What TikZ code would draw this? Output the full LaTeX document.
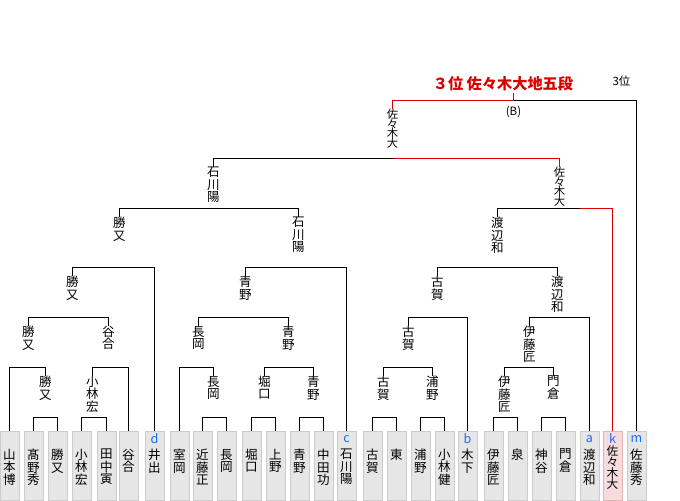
\documentclass[tikz,border=0pt]{standalone}
\usepackage{fontspec}
\newfontfamily\jp{Noto Sans CJK JP}
\newcommand\tightls{\lineskiplimit=-20pt\relax}
\definecolor{winred}{HTML}{D90000}
\definecolor{boxfill}{HTML}{E6E6E6}
\definecolor{boxline}{HTML}{CCCCCC}
\definecolor{pinkfill}{HTML}{F6DCDC}
\definecolor{pinkline}{HTML}{E2B5B5}
\definecolor{letterblue}{HTML}{1A6EFF}
\begin{document}
\begin{tikzpicture}[x=0.75pt,y=-0.75pt,line width=0.75pt,
  lab/.style={anchor=north,inner sep=0pt,align=center,font={\jp\fontsize{9.4}{9.4}\selectfont\tightls}},
  lab4/.style={lab,font={\jp\fontsize{8.5}{7.3}\selectfont\tightls}},
  leafname4/.style={lab,font={\jp\fontsize{8.8}{8.25}\selectfont\tightls}},
  leaf/.style={draw=boxline,fill=boxfill,anchor=north,minimum width=14.25pt,minimum height=51.75pt,inner sep=0pt},
  winleaf/.style={leaf,draw=pinkline,fill=pinkfill},
  tag/.style={inner sep=0pt,text=letterblue,font={\jp\fontsize{9.4}{9.4}\selectfont}},
  win/.style={draw=winred}]
\useasboundingbox (-0.5,-0.5) rectangle (679.5,499.5);

% ---- leaves ----
\node[leaf] (b0) at (9,430) {};   \node[lab] (n0) at (9,448) {山\\本\\博};
\node[leaf] (b1) at (33,430) {};  \node[lab] (n1) at (33,448) {髙\\野\\秀};
\node[leaf] (b2) at (57,430) {};  \node[lab] (n2) at (57,448) {勝\\又};
\node[leaf] (b3) at (81,430) {};  \node[lab] (n3) at (81,448) {小\\林\\宏};
\node[leaf] (b4) at (106,430) {}; \node[lab] (n4) at (106,448) {田\\中\\寅};
\node[leaf] (b5) at (128,430) {}; \node[lab] (n5) at (128,448) {谷\\合};
\node[leaf] (b6) at (154,430) {}; \node[lab] (n6) at (154,448) {井\\出};
\node[tag] (t6) at (154,438.5) {d};
\node[leaf] (b7) at (179,430) {}; \node[lab] (n7) at (179,448) {室\\岡};
\node[leaf] (b8) at (202,430) {}; \node[lab] (n8) at (202,448) {近\\藤\\正};
\node[leaf] (b9) at (226,430) {}; \node[lab] (n9) at (226,448) {長\\岡};
\node[leaf] (b10) at (251,430) {}; \node[lab] (n10) at (251,448) {堀\\口};
\node[leaf] (b11) at (275,430) {}; \node[lab] (n11) at (275,448) {上\\野};
\node[leaf] (b12) at (299,430) {}; \node[lab] (n12) at (299,448) {青\\野};
\node[leaf] (b13) at (323,430) {}; \node[lab] (n13) at (323,448) {中\\田\\功};
\node[leaf] (b14) at (346,430) {}; \node[lab] (n14) at (346,448) {石\\川\\陽};
\node[tag] (t14) at (346,438.5) {c};
\node[leaf] (b15) at (372,430) {}; \node[lab] (n15) at (372,448) {古\\賀};
\node[leaf] (b16) at (396,430) {}; \node[lab] (n16) at (396,448) {東};
\node[leaf] (b17) at (420,430) {}; \node[lab] (n17) at (420,448) {浦\\野};
\node[leaf] (b18) at (444,430) {}; \node[lab] (n18) at (444,448) {小\\林\\健};
\node[leaf] (b19) at (467,430) {}; \node[lab] (n19) at (467,448) {木\\下};
\node[tag] (t19) at (467,438.5) {b};
\node[leaf] (b20) at (493,430) {}; \node[lab] (n20) at (493,448) {伊\\藤\\匠};
\node[leaf] (b21) at (517,430) {}; \node[lab] (n21) at (517,448) {泉};
\node[leaf] (b22) at (541,430) {}; \node[lab] (n22) at (541,448) {神\\谷};
\node[leaf] (b23) at (565,430) {}; \node[lab] (n23) at (565,448) {門\\倉};
\node[leaf] (b24) at (589,430) {}; \node[lab] (n24) at (589,448) {渡\\辺\\和};
\node[tag] (t24) at (589,438.5) {a};
\node[winleaf] (b25) at (612,430) {}; \node[leafname4] (n25) at (612,445) {佐\\々\\木\\大};
\node[tag] (t25) at (612,438) {k};
\node[leaf] (b26) at (636,430) {}; \node[lab] (n26) at (636,448) {佐\\藤\\秀};
\node[tag] (t26) at (636,438.5) {m};

% ---- winner labels ----
\node[lab4] (p0) at (392,108) {佐\\々\\木\\大};
\node[lab] (s1) at (213,166) {石\\川\\陽};
\node[lab4] (s2) at (559,166) {佐\\々\\木\\大};
\node[lab] (q1) at (119,216) {勝\\又};
\node[lab] (q2) at (298,216) {石\\川\\陽};
\node[lab] (q3) at (497,216) {渡\\辺\\和};
\node[lab] (r1) at (72,275) {勝\\又};
\node[lab] (r2) at (245,275) {青\\野};
\node[lab] (r3) at (437,275) {古\\賀};
\node[lab] (r4) at (557,275) {渡\\辺\\和};
\node[lab] (u1) at (28,325) {勝\\又};
\node[lab] (u2) at (108,325) {谷\\合};
\node[lab] (u3) at (198,325) {長\\岡};
\node[lab] (u4) at (288,325) {青\\野};
\node[lab] (u5) at (408,325) {古\\賀};
\node[lab] (u6) at (529,325) {伊\\藤\\匠};
\node[lab] (v1) at (45,375) {勝\\又};
\node[lab] (v2) at (92,375) {小\\林\\宏};
\node[lab] (v3) at (213,375) {長\\岡};
\node[lab] (v4) at (264,375) {堀\\口};
\node[lab] (v5) at (313,375) {青\\野};
\node[lab] (v6) at (383,375) {古\\賀};
\node[lab] (v7) at (432,375) {浦\\野};
\node[lab] (v8) at (504,375) {伊\\藤\\匠};
\node[lab] (v9) at (553,375) {門\\倉};

% ---- title texts ----
\node[inner sep=1.5pt,text=winred,font={\jp\bfseries\fontsize{11.4}{11.4}\selectfont}] (title) at (502.5,83) {３位 佐々木大地五段};
\node[inner sep=0pt,font={\jp\fontsize{8.6}{8.6}\selectfont}] (third) at (621,81) {3位};
\node[inner sep=0pt,font={\jp\fontsize{8.6}{8.6}\selectfont}] (bmark) at (513,111) {(B)};

% ---- match line coordinates ----
\coordinate (m0) at (513,100);
\coordinate (m1) at (393,158);
\coordinate (m2a) at (213,208);
\coordinate (m2b) at (579,208);
\coordinate (m3a) at (119,267);
\coordinate (m3b) at (298,267);
\coordinate (m3c) at (497,267);
\coordinate (m4a) at (72,317);
\coordinate (m4b) at (245,317);
\coordinate (m4c) at (437,317);
\coordinate (m4d) at (557,317);
\coordinate (m5a) at (28,367);
\coordinate (m5b) at (108,367);
\coordinate (m5c) at (198,367);
\coordinate (m5d) at (288,367);
\coordinate (m5e) at (408,367);
\coordinate (m5f) at (529,367);
\coordinate (m6a) at (45,417);
\coordinate (m6b) at (92,417);
\coordinate (m6c) at (213,417);
\coordinate (m6d) at (264,417);
\coordinate (m6e) at (313,417);
\coordinate (m6f) at (383,417);
\coordinate (m6g) at (432,417);
\coordinate (m6h) at (504,417);
\coordinate (m6i) at (553,417);

% ---- connectors ----
\draw[win] (p0.north) |- (m0) -- (title.south -| m0);
\draw (m0) -| (b26.north);
\draw (s1.north) |- (m1);
\draw[win] (m1) -| (s2.north);
\draw (q1.north) |- (m2a) -| (q2.north);
\draw (q3.north) |- (m2b);
\draw[win] (m2b) -| (b25.north);
\draw (r1.north) |- (m3a) -| (b6.north);
\draw (r2.north) |- (m3b) -| (b14.north);
\draw (r3.north) |- (m3c) -| (r4.north);
\draw (u1.north) |- (m4a) -| (u2.north);
\draw (u3.north) |- (m4b) -| (u4.north);
\draw (u5.north) |- (m4c) -| (b19.north);
\draw (u6.north) |- (m4d) -| (b24.north);
\draw (b0.north) |- (m5a) -| (v1.north);
\draw (v2.north) |- (m5b) -| (b5.north);
\draw (b7.north) |- (m5c) -| (v3.north);
\draw (v4.north) |- (m5d) -| (v5.north);
\draw (v6.north) |- (m5e) -| (v7.north);
\draw (v8.north) |- (m5f) -| (v9.north);
\draw (b1.north) |- (m6a) -| (b2.north);
\draw (b3.north) |- (m6b) -| (b4.north);
\draw (b8.north) |- (m6c) -| (b9.north);
\draw (b10.north) |- (m6d) -| (b11.north);
\draw (b12.north) |- (m6e) -| (b13.north);
\draw (b15.north) |- (m6f) -| (b16.north);
\draw (b17.north) |- (m6g) -| (b18.north);
\draw (b20.north) |- (m6h) -| (b21.north);
\draw (b22.north) |- (m6i) -| (b23.north);
\end{tikzpicture}
\end{document}
